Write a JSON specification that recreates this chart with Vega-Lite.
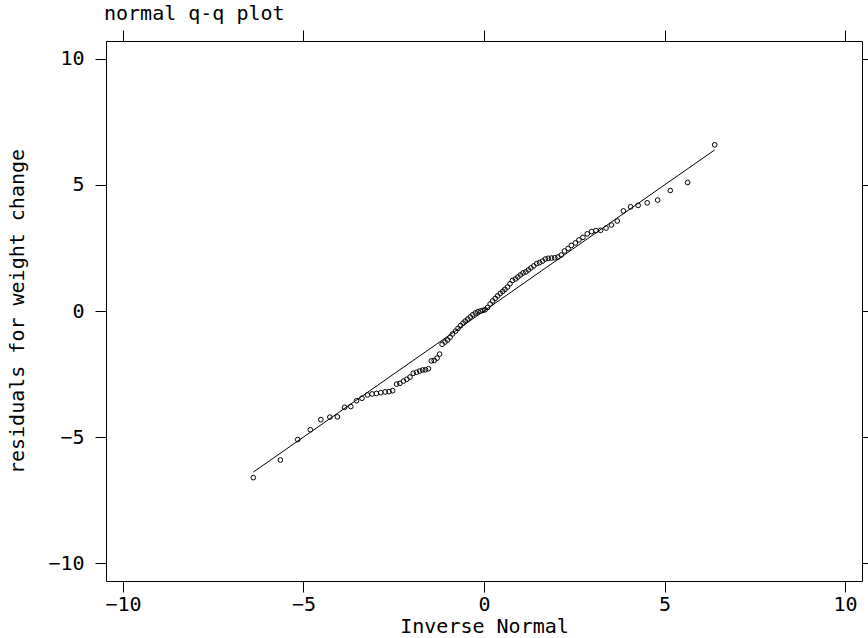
{
  "$schema": "https://vega.github.io/schema/vega-lite/v6.json",
  "autosize": {"type": "none"},
  "padding": {"left": 106, "top": 41, "right": 6, "bottom": 57},
  "width": 756,
  "height": 540,
  "background": "white",
  "config": {
    "font": "DejaVu Sans Mono",
    "view": {"stroke": "black", "strokeWidth": 1},
    "axis": {
      "domain": false, "grid": false, "tickColor": "black", "tickSize": 11, "tickWidth": 1,
      "labelFont": "DejaVu Sans Mono", "labelFontSize": 20, "labelColor": "black",
      "titleFont": "DejaVu Sans Mono", "titleFontSize": 20, "titleFontWeight": "normal", "titleColor": "black"
    }
  },
  "title": {"text": "normal q-q plot", "anchor": "start", "frame": "group", "font": "DejaVu Sans Mono", "fontSize": 20, "fontWeight": "normal", "color": "black", "offset": 6, "dx": -2},
  "datasets": {
    "pts": [
      {"x": -6.39, "y": -6.61}, {"x": -5.64, "y": -5.91}, {"x": -5.16, "y": -5.10}, {"x": -4.81, "y": -4.71},
      {"x": -4.52, "y": -4.31}, {"x": -4.27, "y": -4.21}, {"x": -4.06, "y": -4.20}, {"x": -3.86, "y": -3.82},
      {"x": -3.69, "y": -3.79}, {"x": -3.53, "y": -3.56}, {"x": -3.38, "y": -3.46}, {"x": -3.23, "y": -3.33},
      {"x": -3.10, "y": -3.29}, {"x": -2.98, "y": -3.27}, {"x": -2.86, "y": -3.24}, {"x": -2.74, "y": -3.21},
      {"x": -2.63, "y": -3.20}, {"x": -2.53, "y": -3.16}, {"x": -2.42, "y": -2.90}, {"x": -2.33, "y": -2.87},
      {"x": -2.23, "y": -2.78}, {"x": -2.14, "y": -2.71}, {"x": -2.05, "y": -2.62}, {"x": -1.96, "y": -2.47},
      {"x": -1.87, "y": -2.43}, {"x": -1.78, "y": -2.38}, {"x": -1.70, "y": -2.34}, {"x": -1.62, "y": -2.33},
      {"x": -1.54, "y": -2.29}, {"x": -1.46, "y": -1.98}, {"x": -1.38, "y": -1.96}, {"x": -1.30, "y": -1.87},
      {"x": -1.23, "y": -1.71}, {"x": -1.16, "y": -1.32}, {"x": -1.08, "y": -1.23}, {"x": -1.01, "y": -1.15},
      {"x": -0.94, "y": -1.04}, {"x": -0.87, "y": -0.91}, {"x": -0.79, "y": -0.80}, {"x": -0.72, "y": -0.69},
      {"x": -0.65, "y": -0.58}, {"x": -0.58, "y": -0.48}, {"x": -0.52, "y": -0.40}, {"x": -0.45, "y": -0.32},
      {"x": -0.38, "y": -0.24}, {"x": -0.31, "y": -0.15}, {"x": -0.24, "y": -0.08}, {"x": -0.17, "y": -0.03},
      {"x": -0.10, "y": 0.00}, {"x": -0.03, "y": 0.02}, {"x": 0.03, "y": 0.05}, {"x": 0.10, "y": 0.14},
      {"x": 0.17, "y": 0.28}, {"x": 0.24, "y": 0.40}, {"x": 0.31, "y": 0.50}, {"x": 0.38, "y": 0.60},
      {"x": 0.45, "y": 0.70}, {"x": 0.52, "y": 0.78}, {"x": 0.58, "y": 0.86}, {"x": 0.65, "y": 0.95},
      {"x": 0.72, "y": 1.08}, {"x": 0.79, "y": 1.21}, {"x": 0.87, "y": 1.27}, {"x": 0.94, "y": 1.35},
      {"x": 1.01, "y": 1.43}, {"x": 1.08, "y": 1.51}, {"x": 1.16, "y": 1.55}, {"x": 1.23, "y": 1.63},
      {"x": 1.30, "y": 1.71}, {"x": 1.38, "y": 1.79}, {"x": 1.46, "y": 1.88}, {"x": 1.54, "y": 1.92},
      {"x": 1.62, "y": 1.98}, {"x": 1.70, "y": 2.06}, {"x": 1.78, "y": 2.09}, {"x": 1.87, "y": 2.10},
      {"x": 1.96, "y": 2.11}, {"x": 2.05, "y": 2.14}, {"x": 2.14, "y": 2.22}, {"x": 2.23, "y": 2.38},
      {"x": 2.33, "y": 2.48}, {"x": 2.42, "y": 2.60}, {"x": 2.53, "y": 2.70}, {"x": 2.63, "y": 2.82},
      {"x": 2.74, "y": 2.92}, {"x": 2.86, "y": 3.06}, {"x": 2.98, "y": 3.15}, {"x": 3.10, "y": 3.19},
      {"x": 3.23, "y": 3.20}, {"x": 3.38, "y": 3.29}, {"x": 3.53, "y": 3.41}, {"x": 3.69, "y": 3.57},
      {"x": 3.86, "y": 3.97}, {"x": 4.06, "y": 4.13}, {"x": 4.27, "y": 4.19}, {"x": 4.52, "y": 4.29},
      {"x": 4.81, "y": 4.40}, {"x": 5.16, "y": 4.78}, {"x": 5.64, "y": 5.10}, {"x": 6.39, "y": 6.59}
    ],
    "ln": [{"x": -6.39, "y": -6.39}, {"x": 6.39, "y": 6.39}]
  },
  "layer": [
    {
      "data": {"name": "pts"},
      "mark": {"type": "point", "shape": "circle", "filled": false, "stroke": "black", "strokeWidth": 1, "size": 22, "opacity": 1},
      "encoding": {
        "x": {"field": "x", "type": "quantitative", "scale": {"domain": [-10.47, 10.47], "nice": false, "zero": false},
              "axis": {"orient": "bottom", "values": [-10, -5, 0, 5, 10], "title": "Inverse Normal", "labelPadding": 2, "titlePadding": 2}},
        "y": {"field": "y", "type": "quantitative", "scale": {"domain": [-10.71, 10.71], "nice": false, "zero": false},
              "axis": {"orient": "left", "values": [-10, -5, 0, 5, 10], "title": "residuals for weight change", "labelPadding": 11, "titlePadding": 20}}
      }
    },
    {
      "data": {"name": "ln"},
      "mark": {"type": "line", "color": "black", "strokeWidth": 1},
      "encoding": {
        "x": {"field": "x", "type": "quantitative", "scale": {"domain": [-10.47, 10.47], "nice": false, "zero": false},
              "axis": {"orient": "top", "values": [-10, -5, 0, 5, 10], "labels": false, "title": null}},
        "y": {"field": "y", "type": "quantitative", "scale": {"domain": [-10.71, 10.71], "nice": false, "zero": false},
              "axis": {"orient": "right", "values": [-10, -5, 0, 5, 10], "labels": false, "title": null}}
      }
    }
  ],
  "resolve": {"axis": {"x": "independent", "y": "independent"}}
}
